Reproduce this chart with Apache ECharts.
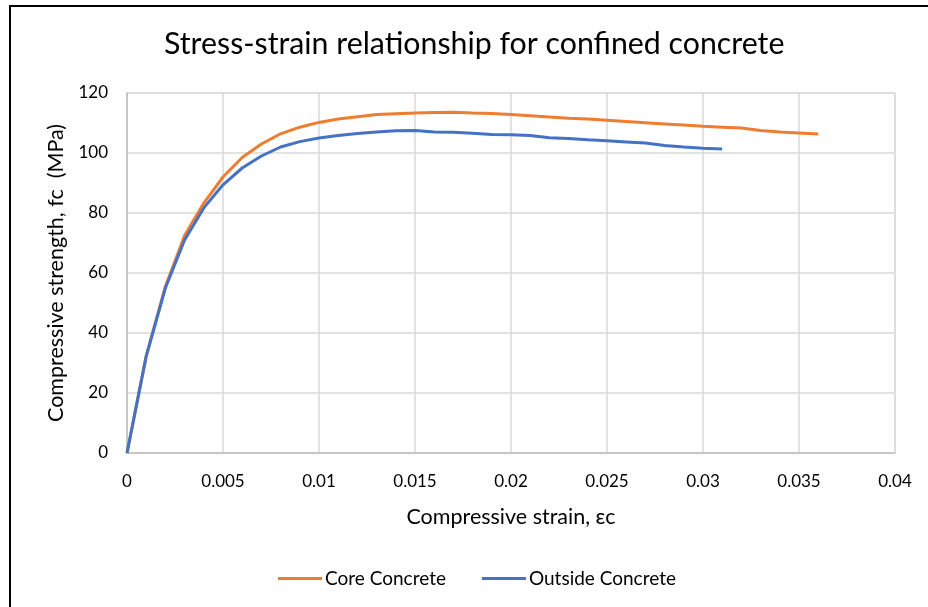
<!DOCTYPE html>
<html>
<head>
<meta charset="utf-8">
<script src="https://cdn.jsdelivr.net/npm/echarts@6/dist/echarts.min.js"></script>
<style>
html,body{margin:0;padding:0;background:#fff;}
#chart{width:928px;height:607px;}
</style>
</head>
<body>
<div id="chart"></div>
<script>
var titleText = 'Stress-strain relationship for confined concrete';
var xAxisName = 'Compressive strain, εc';
var yAxisName = 'Compressive strength, fc  (MPa)';
var seriesNames = ['Core Concrete', 'Outside Concrete'];

var coreStrain = [0,0.001,0.002,0.003,0.004,0.005,0.006,0.007,0.008,0.009,0.010,0.011,0.012,0.013,0.014,0.015,0.016,0.017,0.018,0.019,0.020,0.021,0.022,0.023,0.024,0.025,0.026,0.027,0.028,0.029,0.030,0.031,0.032,0.033,0.034,0.035,0.036];
var coreStress = [0,32.4,55.5,72.5,83.3,92,98.5,103,106.4,108.6,110.2,111.3,112.1,112.8,113.1,113.3,113.5,113.6,113.3,113.2,112.8,112.4,112.0,111.6,111.3,110.9,110.5,110.1,109.7,109.3,108.9,108.6,108.3,107.5,107.0,106.7,106.3];

var outsideStrain = [0,0.001,0.002,0.003,0.004,0.005,0.006,0.007,0.008,0.009,0.010,0.011,0.012,0.013,0.014,0.015,0.016,0.017,0.018,0.019,0.020,0.021,0.022,0.023,0.024,0.025,0.026,0.027,0.028,0.029,0.030,0.031];
var outsideStress = [0,32.2,55,71,81.7,89.4,95,99,102,103.8,105,105.8,106.5,107,107.4,107.5,107,106.9,106.6,106.2,106.1,105.8,105.1,104.8,104.4,104.1,103.7,103.3,102.5,102.0,101.6,101.3];

function pairs(xs, ys){ return xs.map(function(x,i){ return [x, ys[i]]; }); }

var FONT = 'Lato';
var chart = echarts.init(document.getElementById('chart'), null, {renderer:'canvas'});
chart.setOption({
  backgroundColor:'#ffffff',
  animation:false,
  title:{
    text:titleText, left:164, top:29, padding:0,
    textStyle:{fontFamily:FONT, fontSize:30.3, fontWeight:'normal', color:'#000000'}
  },
  legend:{
    data:seriesNames, bottom:19, left:278, padding:0,
    icon:'rect', itemWidth:44, itemHeight:3, itemGap:36,
    textStyle:{fontFamily:FONT, fontSize:19, color:'#000000', padding:[0,0,0,-2]}
  },
  grid:{left:127, right:33, top:93, bottom:154, containLabel:false,
        show:true, borderColor:'#d9d9d9', borderWidth:1},
  xAxis:{
    type:'value', min:0, max:0.04, interval:0.005,
    name:xAxisName, nameLocation:'middle', nameGap:53,
    nameTextStyle:{fontFamily:FONT, fontSize:21.5, color:'#000000'},
    axisLine:{show:true, onZero:false, lineStyle:{color:'#bfbfbf', width:1.5}},
    axisTick:{show:false},
    axisLabel:{fontFamily:FONT, fontSize:17, color:'#000000', margin:20,
      formatter:function(v){ return String(parseFloat(v.toFixed(3))); }},
    splitLine:{show:true, lineStyle:{color:'#d9d9d9', width:1.5}}
  },
  yAxis:{
    type:'value', min:0, max:120, interval:20,
    name:yAxisName, nameLocation:'middle', nameGap:59,
    nameTextStyle:{fontFamily:FONT, fontSize:21.5, color:'#000000'},
    axisLine:{show:true, lineStyle:{color:'#bfbfbf', width:1.5}},
    axisTick:{show:false},
    axisLabel:{fontFamily:FONT, fontSize:17, color:'#000000', margin:19},
    splitLine:{show:true, lineStyle:{color:'#d9d9d9', width:1.5}}
  },
  series:[
    {name:seriesNames[0], type:'line', data:pairs(coreStrain, coreStress),
     symbol:'none', smooth:false, lineStyle:{color:'#ED7D31', width:3}, itemStyle:{color:'#ED7D31'}},
    {name:seriesNames[1], type:'line', data:pairs(outsideStrain, outsideStress),
     symbol:'none', smooth:false, lineStyle:{color:'#4472C4', width:3}, itemStyle:{color:'#4472C4'}}
  ],
  graphic:[
    {type:'rect', shape:{x:9, y:5, width:2, height:602}, style:{fill:'#000000'}, silent:true},
    {type:'rect', shape:{x:9, y:5, width:919, height:2}, style:{fill:'#000000'}, silent:true}
  ]
});
</script>
</body>
</html>
